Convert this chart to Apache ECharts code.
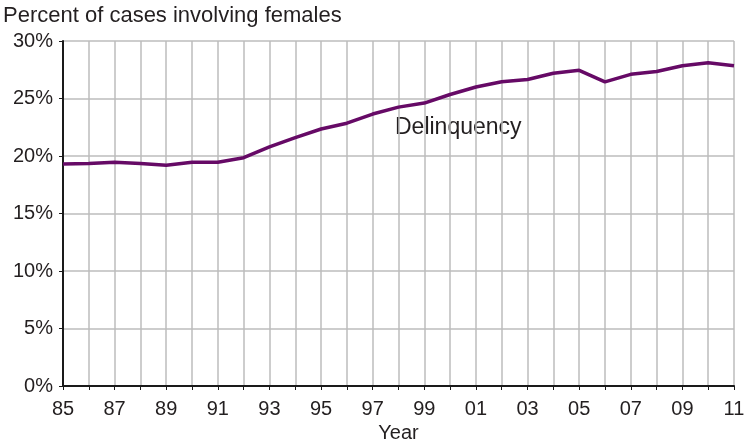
<!DOCTYPE html>
<html>
<head>
<meta charset="utf-8">
<script src="https://cdn.jsdelivr.net/npm/echarts@6/dist/echarts.min.js"></script>
<style>html,body{margin:0;padding:0;background:#fff}#c{width:749px;height:443px}</style>
</head>
<body>
<div id="c"></div>
<script>
var years = ['85','86','87','88','89','90','91','92','93','94','95','96','97','98','99','00','01','02','03','04','05','06','07','08','09','10','11'];
var delinquency = [19.3,19.35,19.45,19.35,19.2,19.45,19.45,19.85,20.8,21.6,22.35,22.85,23.65,24.25,24.6,25.35,26.0,26.45,26.65,27.2,27.45,26.45,27.1,27.35,27.85,28.1,27.85];
var yTicks = [0,5,10,15,20,25,30];
var seriesLabel = 'Delinquency';
var titleText = 'Percent of cases involving females';
var xName = 'Year';

var font = 'Liberation Sans, Arial, Helvetica, sans-serif';
var txt = '#231f20';
var chart = echarts.init(document.getElementById('c'));
chart.setOption({
  animation: false,
  title: {text: titleText, left: 3, top: 5, padding: 0, textStyle: {fontFamily: font, fontSize: 22, fontWeight: 'normal', color: txt}},
  grid: {left: 63, right: 15, top: 41, bottom: 57, containLabel: false, outerBoundsMode: 'none'},
  xAxis: {
    type: 'category', data: years, boundaryGap: false,
    name: xName, nameLocation: 'middle', nameGap: 35,
    nameTextStyle: {fontFamily: font, fontSize: 20, color: txt},
    axisLine: {lineStyle: {color: '#1a1a1a', width: 2}},
    axisTick: {show: true, interval: 0, length: 4, lineStyle: {color: '#1a1a1a', width: 1}},
    axisLabel: {interval: 1, fontFamily: font, fontSize: 20, color: txt, margin: 13},
    splitLine: {show: true, interval: 0, lineStyle: {color: '#bcbcbc', width: 1.5}}
  },
  yAxis: {
    type: 'value', min: yTicks[0], max: yTicks[yTicks.length-1], interval: 5,
    axisLine: {show: true, lineStyle: {color: '#1a1a1a', width: 2}},
    axisTick: {show: true, length: 4, lineStyle: {color: '#1a1a1a', width: 1}},
    axisLabel: {formatter: '{value}%', fontFamily: font, fontSize: 20, color: txt, margin: 10},
    splitLine: {show: true, lineStyle: {color: '#bcbcbc', width: 1.5}}
  },
  series: [{
    type: 'line', name: seriesLabel, data: delinquency, symbol: 'none',
    lineStyle: {color: '#660a66', width: 3.5}
  }],
  graphic: [{
    type: 'text', left: 395, top: 116,
    style: {text: seriesLabel, font: '23px ' + font, fill: txt}
  }]
});
</script>
</body>
</html>
